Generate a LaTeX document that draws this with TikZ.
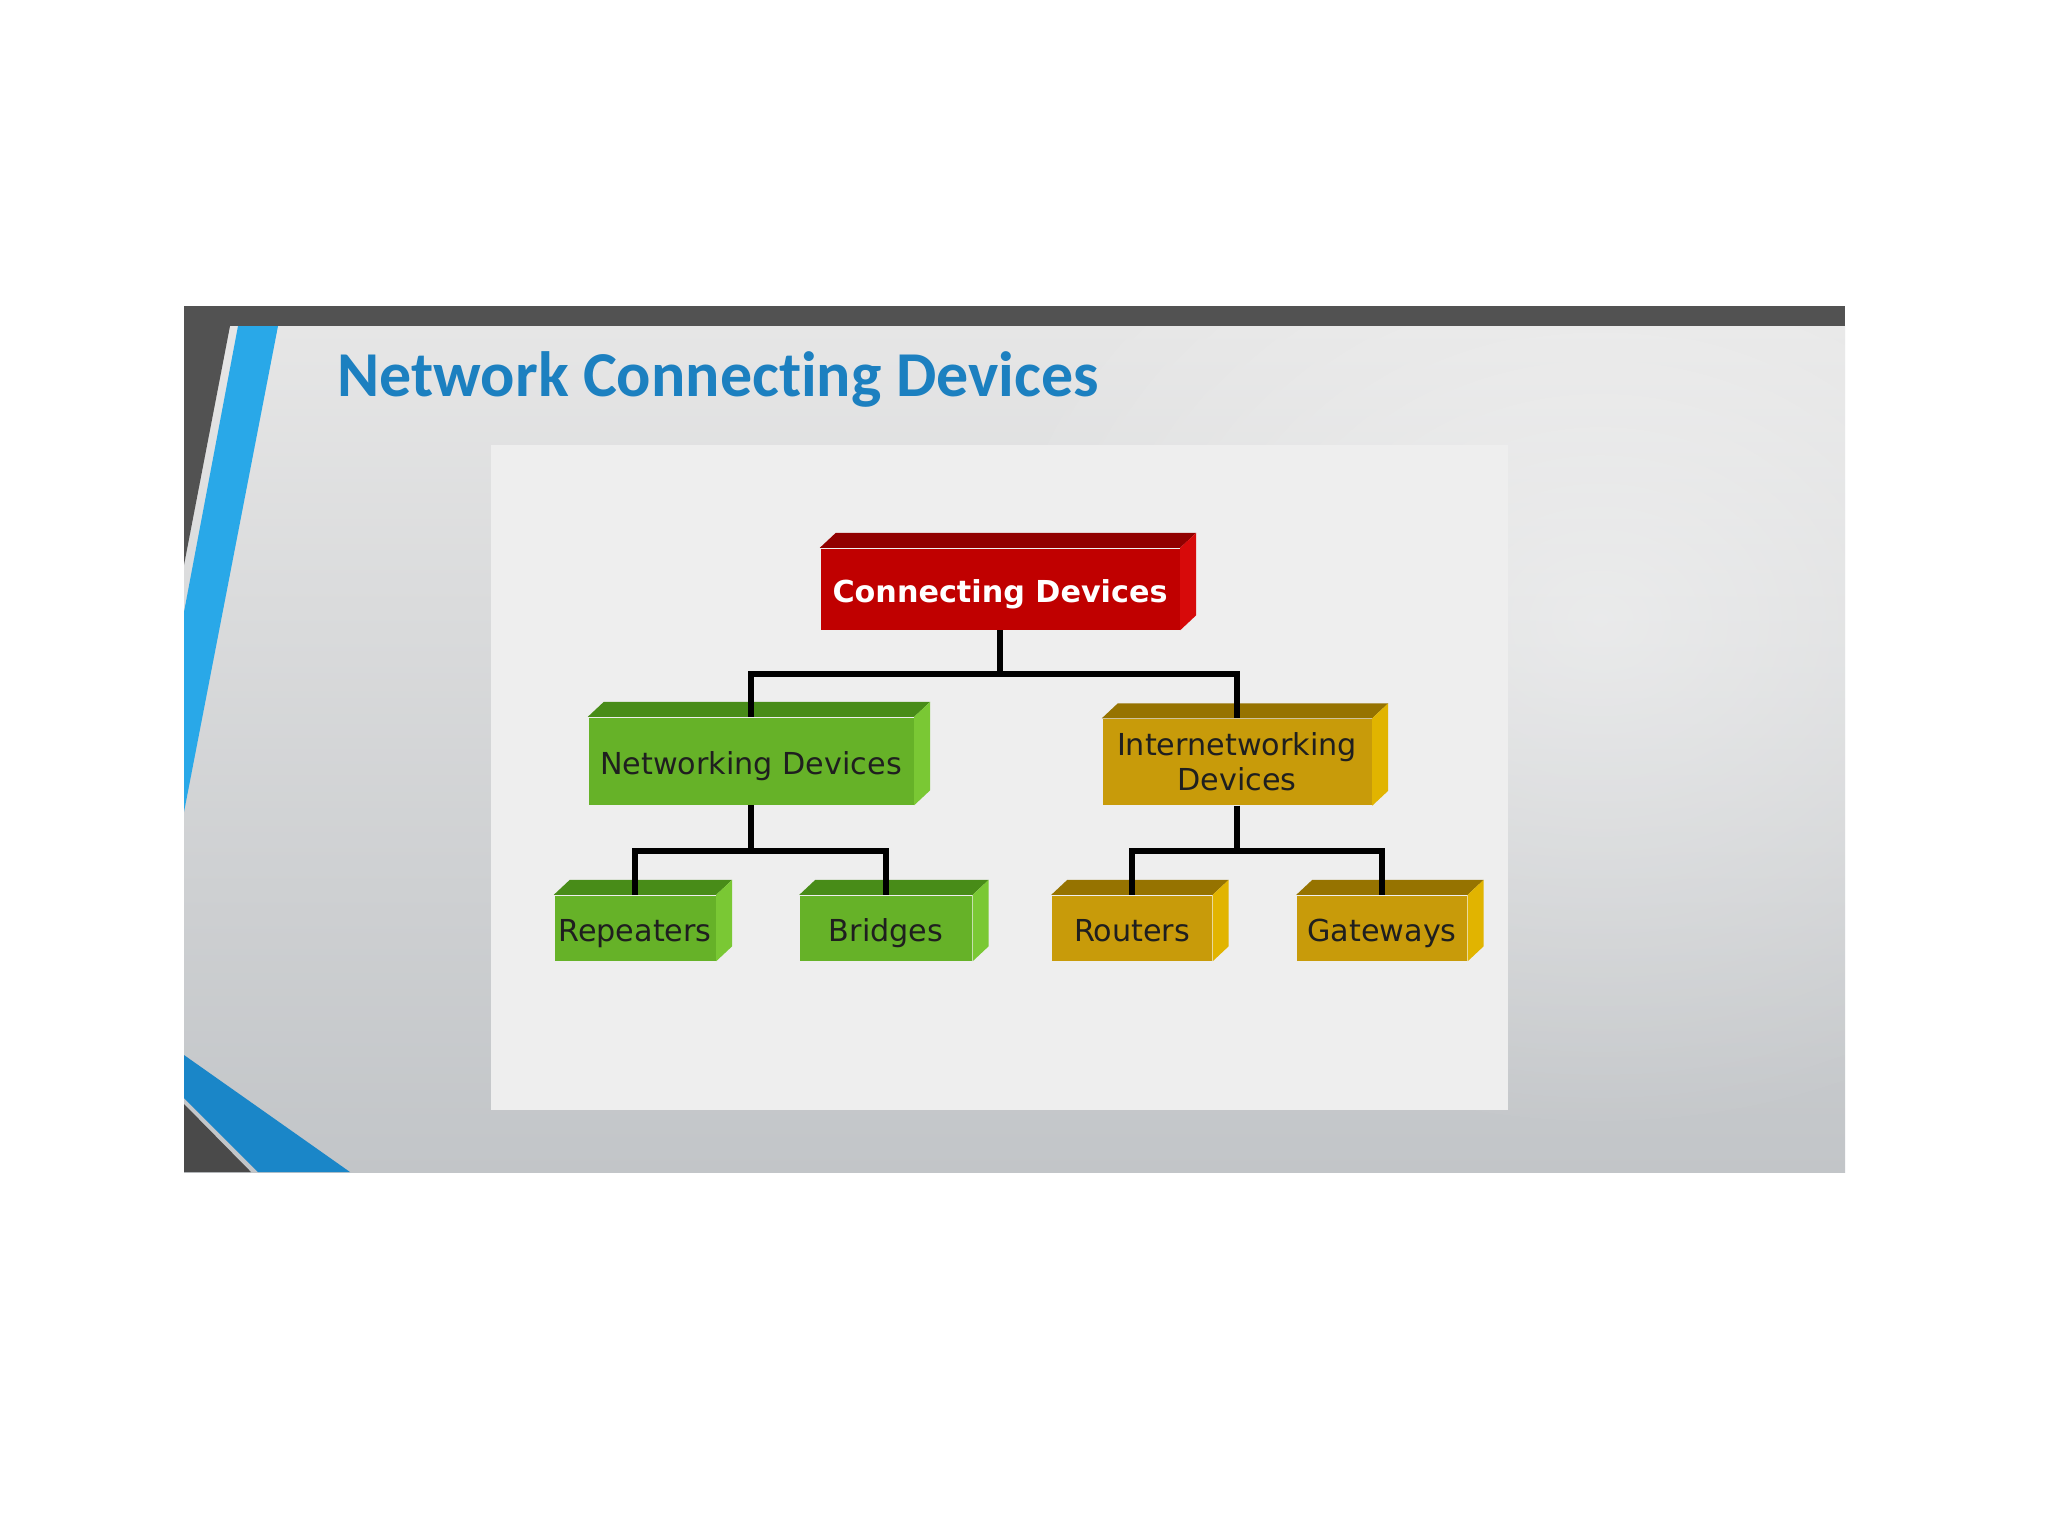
\documentclass[tikz,border=0pt]{standalone}
\usepackage{fontspec}
\setmainfont{DejaVu Sans}
\newfontfamily\titlefont[Ligatures=NoCommon]{Carlito}
\usetikzlibrary{positioning,calc,fadings}
\definecolor{slidedark}{RGB}{82,82,82}
\definecolor{slidetop}{RGB}{230,230,230}
\definecolor{slidemid}{RGB}{224,225,226}
\definecolor{slidebot}{RGB}{194,197,200}
\definecolor{panelgray}{RGB}{238,238,238}
\definecolor{stripeblue}{RGB}{41,168,232}
\definecolor{stripebluedk}{RGB}{26,134,200}
\definecolor{titleblue}{RGB}{28,128,192}
\definecolor{cdred}{RGB}{192,0,0}
\definecolor{cdredtop}{RGB}{145,0,0}
\definecolor{cdredside}{RGB}{215,10,10}
\definecolor{ndgreen}{RGB}{102,178,40}
\definecolor{ndgreentop}{RGB}{72,140,24}
\definecolor{ndgreenside}{RGB}{122,200,52}
\definecolor{idgold}{RGB}{200,155,10}
\definecolor{idgoldtop}{RGB}{150,115,0}
\definecolor{idgoldside}{RGB}{225,180,0}
\tikzfading[name=glowfade, inner color=transparent!20, outer color=transparent!100]
\tikzset{
  cubebox/.style={inner sep=0pt, align=center, font=\fontsize{8.6}{10}\selectfont},
  oneline/.style={text height=2.8mm, text depth=0.2mm},
  redbox/.style={cubebox, oneline, fill=cdred, text=white, font=\fontsize{8.6}{10}\selectfont\bfseries},
  greenbox/.style={cubebox, oneline, fill=ndgreen, text=black!88},
  goldbox/.style={cubebox, fill=idgold, text=black!88},
  link/.style={line width=1.7pt, black},
  title/.style={text=titleblue, inner sep=0pt, font=\titlefont\bfseries\fontsize{18.2}{20}\selectfont},
}
% top and right faces of a box
\newcommand{\cubefaces}[3]{%
  \fill[#2] (#1.north west) -- ++(16,-15) -- ($(#1.north east)+(16,-15)$) -- (#1.north east) -- cycle;
  \fill[#3] (#1.north east) -- ++(16,-15) -- ($(#1.south east)+(16,-15)$) -- (#1.south east) -- cycle;
}
\begin{document}
\begin{tikzpicture}[x=0.1mm,y=-0.1mm]
  \fill[white] (0,0) rectangle (2048,1536);
  \useasboundingbox (0,0) rectangle (2048,1536);
  % slide
  \shade[top color=slidetop, middle color=slidemid, bottom color=slidebot] (184,326) rectangle (1845,1172);
  \begin{scope}
    \clip (184,326) rectangle (1845,1172);
    \fill[white, opacity=0.55, path fading=glowfade] (1600,620) ellipse (640 and 520);
    \fill[slidedark] (184,326) -- (230,326) -- (184,565) -- cycle;
    \fill[stripeblue] (238,326) -- (278,326) -- (184,812) -- (184,612) -- cycle;
    \fill[stripebluedk] (184,1055) -- (350,1172) -- (258,1172) -- (184,1098) -- cycle;
    \fill[slidedark!90!black] (184,1104) -- (251,1172) -- (184,1172) -- cycle;
  \end{scope}
  \fill[slidedark] (184,306) rectangle (1845,326);
  \node[title, anchor=base west] (title) at (337,396) {Network Connecting Devices};
  \fill[panelgray] (491,445) rectangle (1508,1110);

  % boxes
  \node[redbox, minimum width=35.9mm, minimum height=8.1mm] (cd) at (1000,589) {Connecting Devices};
  \node[greenbox, minimum width=32.5mm, minimum height=8.7mm] (nd) at (751,761) {Networking Devices};
  \node[goldbox, minimum width=26.9mm, minimum height=8.6mm] (id) at (1237,762) {Internetworking\\Devices};
  \node[greenbox, minimum width=16.1mm, minimum height=6.5mm] (rep) at (635,928) {Repeaters};
  \node[greenbox, minimum width=17.2mm, minimum height=6.5mm] (bri) at (886,928) {Bridges};
  \node[goldbox, oneline, minimum width=16.0mm, minimum height=6.5mm] (rou) at (1132,928) {Routers};
  \node[goldbox, oneline, minimum width=17.0mm, minimum height=6.5mm] (gat) at (1382,928) {Gateways};
  \foreach \n/\t/\s in {cd/cdredtop/cdredside, nd/ndgreentop/ndgreenside,
      id/idgoldtop/idgoldside, rep/ndgreentop/ndgreenside, bri/ndgreentop/ndgreenside,
      rou/idgoldtop/idgoldside, gat/idgoldtop/idgoldside}
    {\cubefaces{\n}{\t}{\s}}

  % tree links
  \coordinate (j1) at (1000,674);
  \coordinate (j2) at (751,851);
  \coordinate (j3) at (1237,851);
  \draw[link] (cd.south) -- (j1);
  \draw[link] (nd.north) |- (j1) -| (id.north);
  \draw[link] (nd.south) -- (j2);
  \draw[link] (rep.north) |- (j2) -| (bri.north);
  \draw[link] (id.south) -- (j3);
  \draw[link] (rou.north) |- (j3) -| (gat.north);
\end{tikzpicture}
\end{document}
